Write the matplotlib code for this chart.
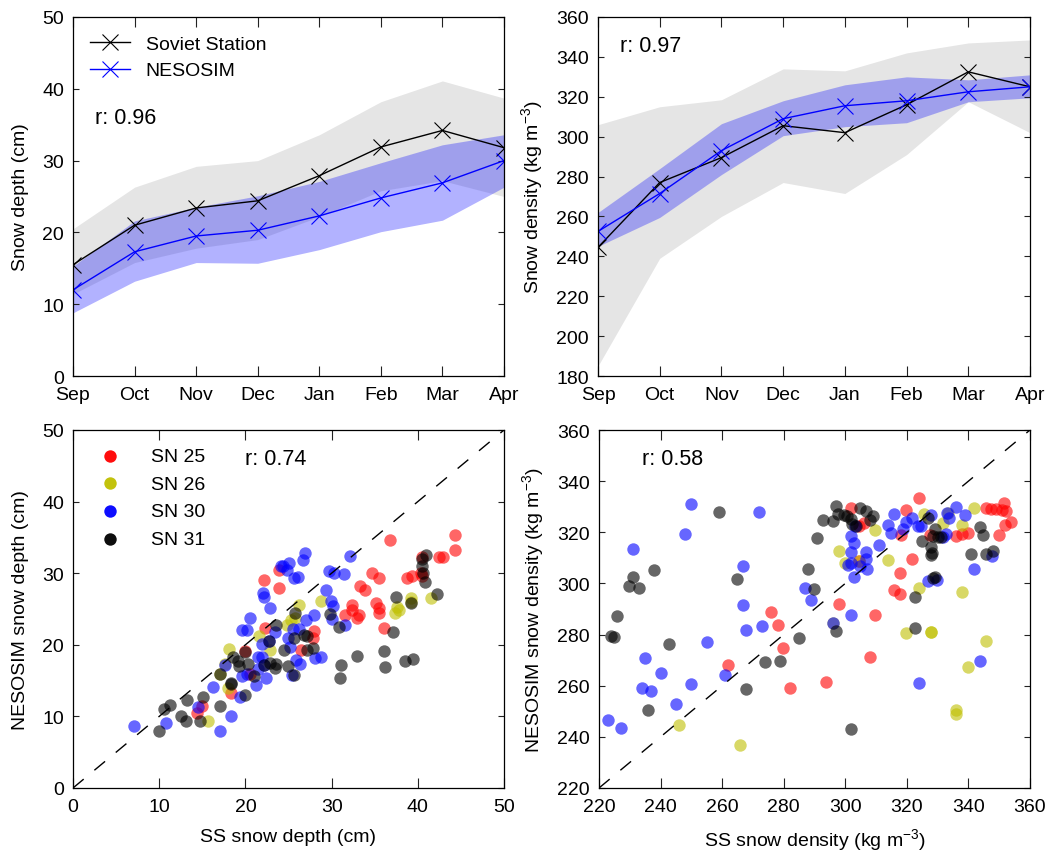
import matplotlib
matplotlib.use('Agg')
import matplotlib.pyplot as plt

plt.rcParams['font.family'] = ['Liberation Sans', 'DejaVu Sans']
plt.rcParams['mathtext.default'] = 'regular'
plt.rcParams['font.size'] = 14

months = ['Sep', 'Oct', 'Nov', 'Dec', 'Jan', 'Feb', 'Mar', 'Apr']

ss_depth = [15.5, 21, 23.4, 24.4, 27.9, 31.9, 34.2, 31.8]
ss_depth_up = [20.5, 26.3, 29.2, 30, 33.6, 38.2, 41.1, 38.7]
ss_depth_lo = [11.4, 15.8, 17.8, 19, 22.2, 25.8, 27.2, 25]
ne_depth = [12, 17.3, 19.5, 20.3, 22.3, 24.8, 26.9, 30]
ne_depth_up = [15.3, 21.6, 23.5, 25.1, 27.1, 29.7, 32.2, 33.6]
ne_depth_lo = [8.8, 13.2, 15.8, 15.7, 17.6, 20.1, 21.7, 26.3]

ss_dens = [244.5, 277, 289.5, 305.5, 302, 316, 332.5, 325]
ss_dens_up = [306, 315, 318.5, 334, 333, 342, 347, 348.5]
ss_dens_lo = [185, 239, 260, 277, 271.5, 291, 317.5, 302]
ne_dens = [252.5, 271.5, 293, 309, 315.5, 318, 322.5, 325]
ne_dens_up = [262, 284, 306.5, 318, 326, 330, 328.5, 331]
ne_dens_lo = [245, 259.5, 281, 300.5, 305, 307, 317.5, 319.5]

labels = ['SN 25', 'SN 26', 'SN 30', 'SN 31']
colors = ['r', (0.75, 0.75, 0), 'b', 'k']

d25 = [(36.8,34.6),(44.3,35.3),(44.3,33.3),(42.9,32.3),(42.5,32.2),(34.7,30.0),(35.5,29.3),(38.7,29.3),
       (39.3,29.6),(40.4,30.0),(40.5,29.6),(23.9,30.4),(22.2,29.1),(23.9,28.0),(33.3,28.2),(33.9,27.7),
       (35.2,25.9),(35.5,25.1),(35.5,24.5),(32.4,25.6),(32.4,24.8),(31.5,24.2),(33.2,24.2),(33.0,23.8),
       (36.1,22.3),(22.3,22.4),(28,21.9),(27.9,21.0),(26.4,19.3),(20,19.1),(20.5,15.9),(18.3,13.3),
       (15.0,11.4),(14.4,10.5),(40.5,32.2)]
d26 = [(41.5,26.5),(39.2,26.5),(39.2,26.0),(37.6,25.3),(37.8,24.9),(37.4,24.4),(28.8,26.1),(26.2,25.5),
       (25.8,23.7),(25.3,23.4),(24.8,22.8),(21.6,21.2),(22.9,19.3),(18.1,19.4),(17.6,17.3),(17.1,15.9),
       (18.0,14.0),(15.7,9.4)]
d30 = [(26.9,32.8),(26.7,31.8),(25,31.4),(24.1,31),(24.4,31),(24.8,30.5),(25.6,29.3),(26.1,29.5),(22,27.3),
       (22.2,26.7),(22.8,25.1),(20.5,23.8),(19.6,22.1),(20.2,22.1),(32.1,32.4),(29.7,30.3),(30.3,30),
       (31.4,29.9),(29.3,27.7),(29.9,26.1),(30.2,25.4),(28,24.1),(27,23.5),(30,23.6),(31.6,22.8),(23.4,21.8),
       (25.5,22.2),(26.2,22.2),(24.9,21),(22.7,20.6),(21.9,20.1),(25.2,19.7),(21.5,18.3),(21.9,18.3),
       (25.9,17.9),(26.3,17.3),(28.1,18.1),(28.8,18.3),(21.5,16.6),(22.2,17.2),(19.6,15.7),(20.2,15.9),
       (22.4,15.4),(21.2,14.4),(25.4,15.8),(19.4,12.7),(16.2,14.1),(17.6,17.2),(14.5,11.3),(18.3,10.1),
       (17.1,7.9),(10.8,9.1),(7.1,8.6)]
d31 = [(40.9,32.5),(40.5,32),(40.5,31),(40.6,30),(40.8,28.8),(42.2,27.1),(37.5,26.7),(39.2,25.8),(37.1,21.8),
       (36.1,19.1),(36.2,16.9),(38.5,17.7),(39.5,18),(33,18.4),(31.1,17.2),(31,15.3),(30.9,22.5),(29.8,24.3),
       (25.8,24.4),(23.5,22.8),(22.7,20.5),(25.6,21),(26.8,21.3),(27.1,21.2),(24.5,19.3),(27.2,19.3),(27.8,19.6),
       (20,19),(18.6,18.3),(19.1,17.7),(19.3,17),(20.3,17.3),(22.1,17.2),(22.9,17.5),(23.6,17.3),(23.4,16.8),
       (24.9,17),(25.6,15.8),(21,15.6),(17.1,15.9),(18.3,14.7),(18.3,14.5),(20,13),(15.1,12.7),(13.2,12.3),
       (11.2,11.6),(10.5,11),(17.1,11.4),(12.5,10),(13.1,9.3),(14.7,9.3),(10,8)]

r25 = [(323.8,333.6),(351.7,331.5),(345.7,329.6),(347.4,329.2),(349,329),(350.8,328.7),(352.2,328.3),(353.8,324),
       (351.8,322.8),(349.8,318.9),(339.8,319.7),(337.9,319.2),(336,318.6),(327.6,319.1),(319.8,328.7),(301.7,329.6),
       (306,323.5),(304.6,322.5),(318,319),(321.8,309.6),(317.8,304.1),(315.8,297.4),(317.8,295.7),(297.8,291.9),
       (309.8,287.6),(275.9,288.8),(278,283.8),(279.9,274.6),(307.9,271.2),(261.9,268.2),(293.8,261.5),(282,259.3),
       (304.4,308.8)]
r26 = [(341.8,329.5),(325.5,327.3),(331.7,323.8),(333.3,327.7),(337.9,322.9),(309.7,320.7),(297.8,312.7),(299.8,307.9),
       (304.4,308.6),(313.8,309.1),(323.8,298.3),(337.8,296.7),(319.8,280.8),(327.8,281.2),(327.8,281.2),(345.8,277.5),
       (339.8,267.4),(335.9,250.5),(335.9,248.8),(245.9,244.7),(265.9,237),(296,284.4)]
r30 = [(249.9,331),(271.9,327.9),(247.9,319.2),(230.9,313.5),(266.9,306.7),(266.9,291.6),(267.9,281.7),(273,283.5),
       (255,277.2),(234.9,270.9),(240,265),(260.9,264.1),(249.9,260.6),(233.9,259.1),(237,258),(245,252.7),(223,246.5),
       (227,243.4),(286.8,298.1),(288.9,293.5),(301.9,287.6),(296,284.4),(323.9,261.1),(343.8,269.6),(341.8,305.8),
       (347.8,310.8),(326.8,300.9),(329.8,301.5),(302.9,302.7),(306.9,305.8),(304.9,306.9),(300.9,307.3),(301.9,307.9),
       (306.8,309.7),(306.8,312.1),(302,312.3),(302.8,315.7),(302,318.4),(310.9,315.2),(313.8,322.7),(314.9,319.6),
       (315.9,327.2),(318.9,321.2),(319.8,323.9),(321.8,325.6),(323.6,322.5),(324.7,322.5),(327.9,326.8),(333,327.7),
       (333.8,325.7),(335.9,329.8),(338.8,326.8),(332.8,319.5),(331.7,318.3),(303,322.5)]
r31 = [(258.9,327.8),(264.9,301.9),(238,305.3),(230.9,302.6),(229.9,299),(233,298.4),(225.9,287.3),(223.9,279.3),
       (224.9,279),(242.9,276.5),(235.9,250.6),(273.9,269.1),(278.9,269.7),(267.9,258.8),(284.9,278.6),(296.9,281.3),
       (302,243.2),(289.9,298),(287.8,305.7),(290.9,317.9),(292.8,324.8),(296,324.6),(296.9,330.1),(297.7,327),
       (299.5,326.9),(300.6,326.5),(301.7,325.3),(302.2,323.4),(303.6,322.5),(304.9,329.4),(306.8,328.3),(309,326.4),
       (308,324.7),(322.8,294.5),(322.8,282.5),(324.9,316.5),(327,325.7),(329,321.2),(328.4,318.6),(330,318.3),
       (331.1,318.3),(327.9,314.3),(328.2,311.8),(327.9,311.2),(329,302.7),(328.6,302.2),(340.9,311.4),(343.8,322.1),
       (344.8,319.1),(345.8,311.7),(347.9,312.6)]

W, H = 1046, 853
fig = plt.figure(figsize=(W / 100, H / 100), dpi=100)


def axbox(x0, x1, y0, y1):
    return fig.add_axes([x0 / W, 1 - y1 / H, (x1 - x0) / W, (y1 - y0) / H])


def style(ax):
    ax.tick_params(direction='in', top=True, right=True, width=0.8, labelsize=14, color='#222222')
    ax.tick_params(axis='x', length=7, pad=7)
    ax.tick_params(axis='y', length=4.5, pad=6.5)
    for s in ax.spines.values():
        s.set_linewidth(0.9)


def line_panel(ax, m1, u1, l1, m2, u2, l2, ylim, yticks, ylabel, r, rpos, ypad):
    x = list(range(len(months)))
    ax.fill_between(x, l1, u1, color='k', alpha=0.1, lw=0)
    ax.fill_between(x, l2, u2, color='b', alpha=0.3, lw=0)
    ax.plot(x, m1, color='k', marker='x', ms=11, mew=0.8, lw=1, label='Soviet Station')
    ax.plot(x, m2, color='b', marker='x', ms=11, mew=0.8, lw=1, label='NESOSIM')
    ax.set_xlim(0, 7)
    ax.set_ylim(*ylim)
    ax.set_xticks(x)
    ax.set_xticklabels(months)
    ax.set_yticks(yticks)
    ax.set_ylabel(ylabel, fontsize=14, labelpad=ypad)
    ax.text(rpos[0], rpos[1], r, transform=ax.transAxes, fontsize=15.5, va='center')
    style(ax)


def scatter_panel(ax, groups, lim, ticks, xlabel, ylabel, r, rpos, xpad, ypad):
    for pts, c, lab in zip(groups, colors, labels):
        ax.scatter([p[0] for p in pts], [p[1] for p in pts], s=80, color=c, alpha=0.6, lw=0, label=lab)
    ax.plot(lim, lim, color='k', lw=1, dashes=(10, 10))
    ax.set_xlim(*lim)
    ax.set_ylim(*lim)
    ax.set_xticks(ticks)
    ax.set_yticks(ticks)
    ax.set_xlabel(xlabel, fontsize=14, labelpad=xpad)
    ax.set_ylabel(ylabel, fontsize=14, labelpad=ypad)
    ax.text(rpos[0], rpos[1], r, transform=ax.transAxes, fontsize=15.5, va='center')
    style(ax)


ax1 = axbox(73, 504, 18, 377)
line_panel(ax1, ss_depth, ss_depth_up, ss_depth_lo, ne_depth, ne_depth_up, ne_depth_lo,
           (0, 50), range(0, 51, 10), 'Snow depth (cm)', 'r: 0.96', (0.05, 0.72), 9.5)
ax1.legend(loc='upper left', bbox_to_anchor=(0.013, 0.981), frameon=False, fontsize=14,
           handlelength=2.05, handletextpad=0.8, labelspacing=0.45, borderaxespad=0.2)

ax2 = axbox(598, 1030, 18, 377)
line_panel(ax2, ss_dens, ss_dens_up, ss_dens_lo, ne_dens, ne_dens_up, ne_dens_lo,
           (180, 360), range(180, 361, 20), 'Snow density (kg m$^{-3}$)', 'r: 0.97', (0.05, 0.92), 8)

ax3 = axbox(73, 504, 431, 789)
scatter_panel(ax3, [d25, d26, d30, d31], (0, 50), range(0, 51, 10), 'SS snow depth (cm)',
              'NESOSIM snow depth (cm)', 'r: 0.74', (0.40, 0.92), 9.5, 9.5)
leg = ax3.legend(loc='upper left', bbox_to_anchor=(0.013, 0.985), frameon=False, fontsize=14, scatterpoints=1,
                 handletextpad=1.1, labelspacing=0.53, borderaxespad=0.2)
for h in leg.legend_handles:
    h.set_alpha(0.95)

ax4 = axbox(599, 1030, 431, 789)
scatter_panel(ax4, [r25, r26, r30, r31], (220, 360), range(220, 361, 20), 'SS snow density (kg m$^{-3}$)',
              'NESOSIM snow density (kg m$^{-3}$)', 'r: 0.58', (0.10, 0.92), 8.5, 8)

fig.savefig('out.png', dpi=100)
